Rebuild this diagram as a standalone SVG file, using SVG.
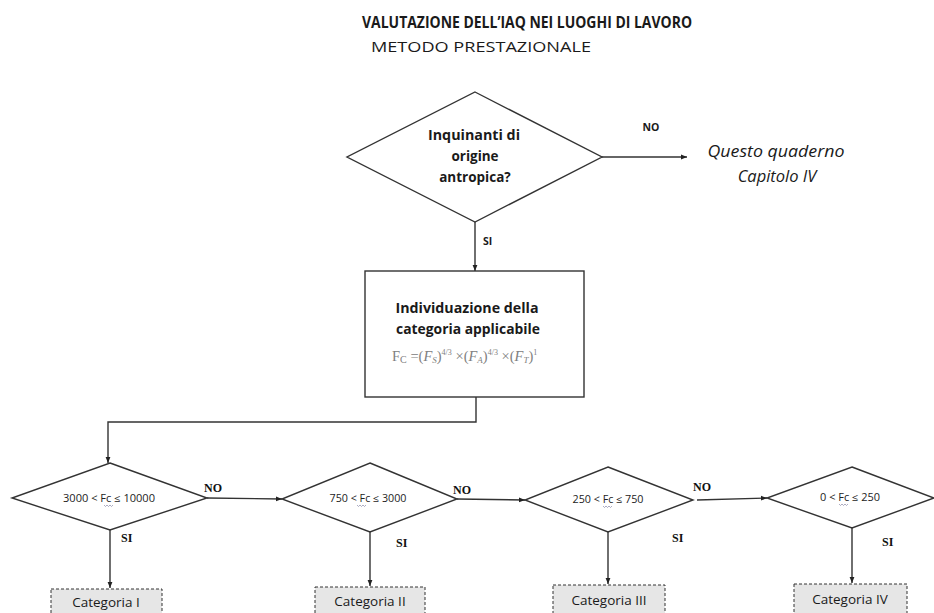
<svg xmlns="http://www.w3.org/2000/svg" width="934" height="613" viewBox="0 0 934 613">
<defs>
<marker id="arr" viewBox="0 0 10 10" refX="10" refY="5" markerWidth="6" markerHeight="6" markerUnits="userSpaceOnUse" orient="auto">
<path d="M0,1 L10,5 L0,9 z" fill="#222"/>
</marker>
<style>
.sans{font-family:"Open Sans","Liberation Sans",sans-serif;fill:#1a1a1a}
.b{font-weight:bold}
.shape{fill:#fff;stroke:#333;stroke-width:1.4}
.cat{fill:#e6e6e6;stroke:#333;stroke-width:1;stroke-dasharray:3,2}
.conn{fill:none;stroke:#333;stroke-width:1.4}
.ser{font-family:"Liberation Serif","DejaVu Serif",serif;font-weight:bold;font-size:12px;fill:#111}
.cond{font-family:"Open Sans","Liberation Sans",sans-serif;font-size:10px;fill:#222;text-anchor:middle}
.wavy{fill:none;stroke:#8a8aa8;stroke-width:0.7}
.frm{font-family:"Liberation Serif","DejaVu Serif",serif;fill:#808080;font-size:14.5px}
</style>
</defs>
<rect width="934" height="613" fill="#fff"/>

<g id="title">
<text class="sans b" x="527" y="28" font-size="15.5" text-anchor="middle" textLength="330" lengthAdjust="spacingAndGlyphs">VALUTAZIONE DELL’IAQ NEI LUOGHI DI LAVORO</text>
<text class="sans" x="481" y="52" font-size="15" text-anchor="middle" textLength="220" lengthAdjust="spacingAndGlyphs">METODO PRESTAZIONALE</text>
</g>

<g id="connectors">
<line class="conn" x1="602" y1="157" x2="687" y2="157" marker-end="url(#arr)"/>
<line class="conn" x1="475" y1="222" x2="475" y2="271" marker-end="url(#arr)"/>
<polyline class="conn" points="476,397 476,422 108,422 108,463" marker-end="url(#arr)"/>
<line class="conn" x1="207" y1="498" x2="282" y2="499" marker-end="url(#arr)"/>
<line class="conn" x1="457" y1="499" x2="525" y2="500" marker-end="url(#arr)"/>
<line class="conn" x1="697" y1="500" x2="767" y2="498" marker-end="url(#arr)"/>
<line class="conn" x1="110" y1="530" x2="110" y2="588" marker-end="url(#arr)"/>
<line class="conn" x1="370" y1="532" x2="370" y2="586" marker-end="url(#arr)"/>
<line class="conn" x1="608" y1="532" x2="608" y2="584" marker-end="url(#arr)"/>
<line class="conn" x1="852" y1="528" x2="852" y2="583" marker-end="url(#arr)"/>
<text class="sans b" x="651" y="131" font-size="10.5" text-anchor="middle">NO</text>
<text class="sans b" x="483" y="245" font-size="10.5">SI</text>
<text class="ser" x="204" y="492">NO</text>
<text class="ser" x="453" y="494">NO</text>
<text class="ser" x="693" y="491">NO</text>
<text class="ser" x="121" y="542">SI</text>
<text class="ser" x="396" y="547">SI</text>
<text class="ser" x="672" y="542">SI</text>
<text class="ser" x="882" y="546">SI</text>
</g>

<g id="q1">
<polygon class="shape" points="475,92 602,157 475,222 347,157"/>
<text class="sans b" x="474" y="140" font-size="13.5" text-anchor="middle" textLength="92" lengthAdjust="spacingAndGlyphs">Inquinanti di</text>
<text class="sans b" x="475" y="161" font-size="13.5" text-anchor="middle">origine</text>
<text class="sans b" x="475" y="182" font-size="13.5" text-anchor="middle">antropica?</text>
</g>

<g id="other">
<text class="sans" x="776" y="157" font-size="16.5" font-style="italic" text-anchor="middle" textLength="137" lengthAdjust="spacingAndGlyphs">Questo quaderno</text>
<text class="sans" x="777" y="182" font-size="16.5" font-style="italic" text-anchor="middle">Capitolo IV</text>
</g>

<g id="box">
<rect class="shape" x="365" y="271" width="219" height="126"/>
<text class="sans b" x="467" y="313" font-size="13.5" text-anchor="middle" textLength="143" lengthAdjust="spacingAndGlyphs">Individuazione della</text>
<text class="sans b" x="468" y="334" font-size="13.5" text-anchor="middle" textLength="144" lengthAdjust="spacingAndGlyphs">categoria applicabile</text>
<text class="frm" x="392" y="361">F<tspan font-size="10" dy="2">C</tspan><tspan dy="-2"> =(</tspan><tspan font-style="italic">F</tspan><tspan font-style="italic" font-size="9" dy="2">S</tspan><tspan dy="-2">)</tspan><tspan font-size="8" dy="-6">4/3</tspan><tspan dy="6"> ×(</tspan><tspan font-style="italic">F</tspan><tspan font-style="italic" font-size="9" dy="2">A</tspan><tspan dy="-2">)</tspan><tspan font-size="8" dy="-6">4/3</tspan><tspan dy="6"> ×(</tspan><tspan font-style="italic">F</tspan><tspan font-style="italic" font-size="9" dy="2">T</tspan><tspan dy="-2">)</tspan><tspan font-size="8" dy="-6">1</tspan></text>
</g>

<g id="d1">
<polygon class="shape" points="110,463 207,498 110,530 12,498"/>
<text class="cond" x="109" y="502" textLength="92" lengthAdjust="spacingAndGlyphs">3000 &lt; Fc ≤ 10000</text>
<path class="wavy" d="M104,505 l1.5,1.5 l1.5,-1.5 l1.5,1.5 l1.5,-1.5 l1.5,1.5 l1.5,-1.5"/>
</g>
<g id="d2">
<polygon class="shape" points="370,463 457,499 370,532 282,499"/>
<text class="cond" x="368" y="502" textLength="77" lengthAdjust="spacingAndGlyphs">750 &lt; Fc ≤ 3000</text>
<path class="wavy" d="M357,505 l1.5,1.5 l1.5,-1.5 l1.5,1.5 l1.5,-1.5 l1.5,1.5 l1.5,-1.5"/>
</g>
<g id="d3">
<polygon class="shape" points="608,467 693,500 608,532 525,500"/>
<text class="cond" x="608" y="503" textLength="71" lengthAdjust="spacingAndGlyphs">250 &lt; Fc ≤ 750</text>
<path class="wavy" d="M603,506 l1.5,1.5 l1.5,-1.5 l1.5,1.5 l1.5,-1.5 l1.5,1.5 l1.5,-1.5"/>
</g>
<g id="d4">
<polygon class="shape" points="852,467 934,498 852,528 767,498"/>
<text class="cond" x="850" y="501" textLength="60" lengthAdjust="spacingAndGlyphs">0 &lt; Fc ≤ 250</text>
<path class="wavy" d="M839,504 l1.5,1.5 l1.5,-1.5 l1.5,1.5 l1.5,-1.5 l1.5,1.5 l1.5,-1.5"/>
</g>

<g id="c1">
<rect class="cat" x="51" y="589" width="111" height="26"/>
<text class="sans" x="106" y="607" font-size="13.5" text-anchor="middle">Categoria I</text>
</g>
<g id="c2">
<rect class="cat" x="315" y="587" width="110" height="28"/>
<text class="sans" x="370" y="606" font-size="13.5" text-anchor="middle">Categoria II</text>
</g>
<g id="c3">
<rect class="cat" x="553" y="585" width="112" height="30"/>
<text class="sans" x="609" y="605" font-size="13.5" text-anchor="middle">Categoria III</text>
</g>
<g id="c4">
<rect class="cat" x="794" y="584" width="113" height="31"/>
<text class="sans" x="850" y="604" font-size="13.5" text-anchor="middle">Categoria IV</text>
</g>
</svg>
